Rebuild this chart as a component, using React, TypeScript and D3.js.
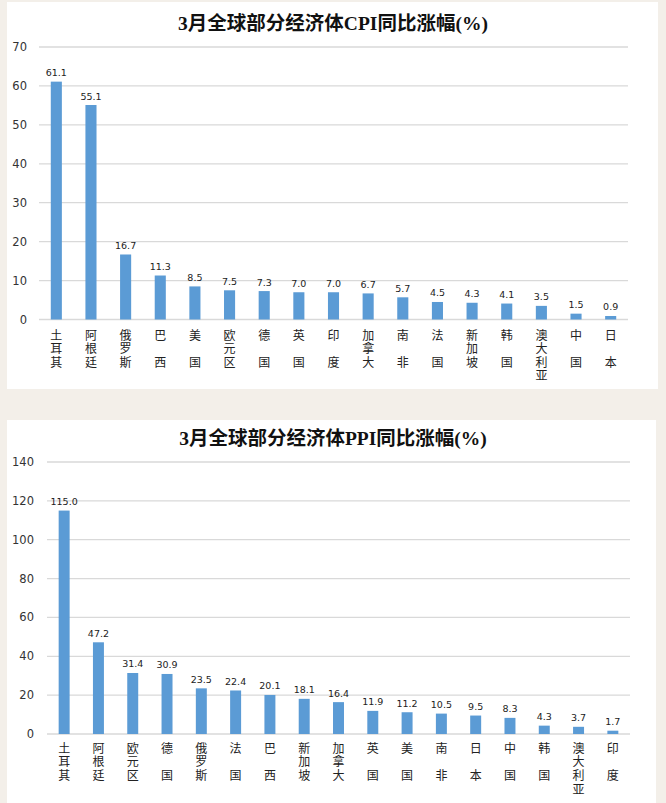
import React from "react";
import * as d3 from "d3";

const cpiTitle = "3月全球部分经济体CPI同比涨幅(%)";
const cpiCategories = ["土耳其", "阿根廷", "俄罗斯", "巴西", "美国", "欧元区", "德国", "英国", "印度", "加拿大", "南非", "法国", "新加坡", "韩国", "澳大利亚", "中国", "日本"];
const cpiValues = [61.1, 55.1, 16.7, 11.3, 8.5, 7.5, 7.3, 7.0, 7.0, 6.7, 5.7, 4.5, 4.3, 4.1, 3.5, 1.5, 0.9];
const cpiTicks = [0, 10, 20, 30, 40, 50, 60, 70];

const ppiTitle = "3月全球部分经济体PPI同比涨幅(%)";
const ppiCategories = ["土耳其", "阿根廷", "欧元区", "德国", "俄罗斯", "法国", "巴西", "新加坡", "加拿大", "英国", "美国", "南非", "日本", "中国", "韩国", "澳大利亚", "印度"];
const ppiValues = [115.0, 47.2, 31.4, 30.9, 23.5, 22.4, 20.1, 18.1, 16.4, 11.9, 11.2, 10.5, 9.5, 8.3, 4.3, 3.7, 1.7];
const ppiTicks = [0, 20, 40, 60, 80, 100, 120, 140];

const BAR = "#5b9bd5";
const GRID = "#d9d9d9";
const BG = "#f3efe9";
const NUM_FONT = "'DejaVu Sans', Verdana, sans-serif";
const CJK_FONT = "'Noto Sans CJK SC', sans-serif";
const TITLE_FONT = "'Liberation Serif', 'Noto Sans CJK SC', serif";

type ChartProps = {
  title: string;
  categories: string[];
  values: number[];
  ticks: number[];
  panel: { x: number; y: number; w: number; h: number };
  titleY: number;
  plot: { x0: number; x1: number; yTop: number; yBottom: number };
  tickRight: number;
  labelTop: number;
  lineStep: number;
};

const LABEL_SIZE = 12;

function Chart(p: ChartProps) {
  const x = d3.scaleBand<string>().domain(p.categories).range([p.plot.x0, p.plot.x1]).paddingInner(0.68).paddingOuter(0.34);
  const y = d3.scaleLinear().domain([0, d3.max(p.ticks) as number]).range([p.plot.yBottom, p.plot.yTop]);
  return (
    <g>
      <rect x={p.panel.x} y={p.panel.y} width={p.panel.w} height={p.panel.h} fill="#ffffff" />
      <text x={333} y={p.titleY} textAnchor="middle" dominantBaseline="central" fontFamily={TITLE_FONT} fontWeight="bold" fontSize={19.5} fill="#111">
        {p.title}
      </text>
      {p.ticks.map((t) => (
        <g key={t}>
          <line x1={p.plot.x0} x2={p.plot.x1} y1={y(t)} y2={y(t)} stroke={GRID} strokeWidth={1.3} />
          <text x={p.tickRight} y={y(t)} textAnchor="end" dominantBaseline="central" fontFamily={NUM_FONT} fontSize={11.5} fill="#333">
            {t}
          </text>
        </g>
      ))}
      {p.categories.map((c, i) => {
        const v = p.values[i];
        const bx = x(c) as number;
        const cx = bx + x.bandwidth() / 2;
        const chars = Array.from(c);
        const shown = chars.length === 2 ? chars[0] + "\u3000" + chars[1] : c;
        return (
          <g key={c}>
            <rect x={bx} y={y(v)} width={x.bandwidth()} height={y(0) - y(v)} fill={BAR} />
            <text x={cx} y={y(v) - 9} textAnchor="middle" dominantBaseline="central" fontFamily={NUM_FONT} fontSize={9.5} fill="#222">
              {v.toFixed(1)}
            </text>
            <text
              x={cx}
              y={p.labelTop - LABEL_SIZE / 2}
              fontFamily={CJK_FONT}
              fontSize={LABEL_SIZE}
              fill="#222"
              style={{ writingMode: "vertical-rl", letterSpacing: `${p.lineStep - LABEL_SIZE}px` }}
            >
              {shown}
            </text>
          </g>
        );
      })}
    </g>
  );
}

export default function App() {
  return (
    <div style={{ position: "absolute", left: 0, top: 0 }}>
      <svg width={666} height={803} style={{ display: "block" }}>
        <rect x={0} y={0} width={666} height={803} fill={BG} />
        <Chart
          title={cpiTitle}
          categories={cpiCategories}
          values={cpiValues}
          ticks={cpiTicks}
          panel={{ x: 7, y: 2, w: 651, h: 387 }}
          titleY={23}
          plot={{ x0: 39, x1: 628, yTop: 47, yBottom: 319.5 }}
          tickRight={27}
          labelTop={335}
          lineStep={13.6}
        />
        <Chart
          title={ppiTitle}
          categories={ppiCategories}
          values={ppiValues}
          ticks={ppiTicks}
          panel={{ x: 7, y: 420, w: 649, h: 383 }}
          titleY={438}
          plot={{ x0: 47, x1: 630, yTop: 462, yBottom: 734 }}
          tickRight={34}
          labelTop={748}
          lineStep={13.8}
        />
      </svg>
    </div>
  );
}
